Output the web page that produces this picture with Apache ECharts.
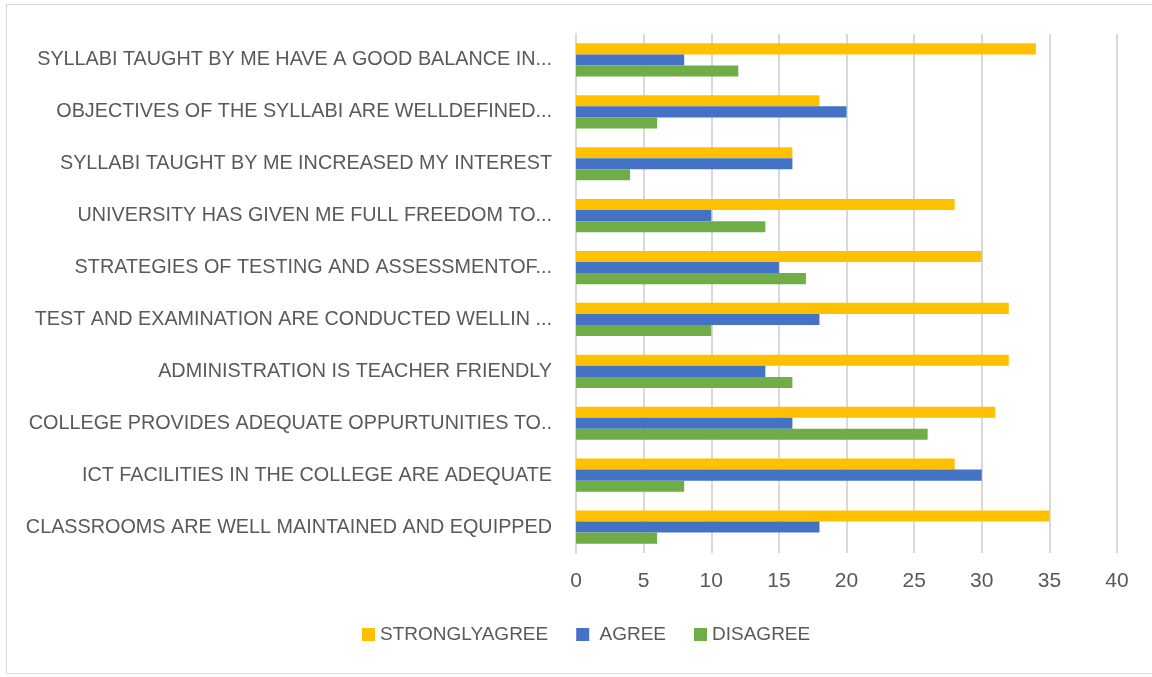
<!DOCTYPE html>
<html>
<head>
<meta charset="utf-8">
<script src="https://cdn.jsdelivr.net/npm/echarts@6/dist/echarts.min.js"></script>
<style>
  html, body { margin: 0; padding: 0; background: #fff; }
  .frame {
    position: absolute; left: 6px; top: 4px; width: 1160px; height: 670px;
    border: 1px solid #d9d9d9; box-sizing: border-box;
  }
  #chart { position: absolute; left: 0; top: 0; width: 1152px; height: 677px; }
</style>
</head>
<body>
<div class="frame"></div>
<div id="chart"></div>
<script>
// categories, listed top to bottom as drawn
const categories = [
  'SYLLABI TAUGHT BY ME HAVE A GOOD BALANCE IN...',
  'OBJECTIVES OF THE SYLLABI ARE WELLDEFINED...',
  'SYLLABI TAUGHT BY ME INCREASED MY INTEREST',
  'UNIVERSITY HAS GIVEN ME FULL FREEDOM TO...',
  'STRATEGIES OF TESTING AND ASSESSMENTOF...',
  'TEST AND EXAMINATION ARE CONDUCTED WELLIN ...',
  'ADMINISTRATION IS TEACHER FRIENDLY',
  'COLLEGE PROVIDES ADEQUATE OPPURTUNITIES TO..',
  'ICT FACILITIES IN THE COLLEGE ARE ADEQUATE',
  'CLASSROOMS ARE WELL MAINTAINED AND EQUIPPED'
]
const stronglyAgree = [34, 18, 16, 28, 30, 32, 32, 31, 28, 35]
const agree = [8, 20, 16, 10, 15, 18, 14, 16, 30, 18]
const disagree = [12, 6, 4, 14, 17, 10, 16, 26, 8, 6]
const xTicks = [0, 40, 5] // min, max, interval

const textColor = '#595959'
const font = '"Liberation Sans", Arial, sans-serif'

const chart = echarts.init(document.getElementById('chart'))

const makeSeries = (name, data, color) => ({
  name,
  type: 'bar',
  data,
  itemStyle: { color },
  barGap: '0%',
  barCategoryGap: '36%',
  emphasis: { disabled: true }
})

chart.setOption({
  animation: false,
  textStyle: { fontFamily: font },
  grid: {
    left: 576,
    right: 35,
    top: 34,
    bottom: 124,
    containLabel: false
  },
  legend: {
    bottom: 28,
    left: 357,
    itemWidth: 13,
    itemHeight: 13,
    itemGap: 28,
    icon: 'rect',
    // the source puts an extra space before AGREE
    formatter: (name) => (name === 'AGREE' ? ' ' + name : name),
    textStyle: { color: textColor, fontSize: 19, fontFamily: font },
    data: ['STRONGLYAGREE', 'AGREE', 'DISAGREE']
  },
  xAxis: {
    type: 'value',
    min: xTicks[0],
    max: xTicks[1],
    interval: xTicks[2],
    axisLine: { show: false },
    axisTick: { show: false },
    axisLabel: { color: textColor, fontSize: 21, margin: 18, fontFamily: font },
    splitLine: { lineStyle: { color: '#d9d9d9', width: 2 } }
  },
  yAxis: {
    type: 'category',
    inverse: true,
    data: categories,
    axisLine: { show: true, lineStyle: { color: '#d9d9d9', width: 2 } },
    axisTick: { show: false },
    axisLabel: { color: textColor, fontSize: 19.8, margin: 24, fontFamily: font }
  },
  series: [
    makeSeries('STRONGLYAGREE', stronglyAgree, '#FFC000'),
    makeSeries('AGREE', agree, '#4472C4'),
    makeSeries('DISAGREE', disagree, '#70AD47')
  ]
})
</script>
</body>
</html>
